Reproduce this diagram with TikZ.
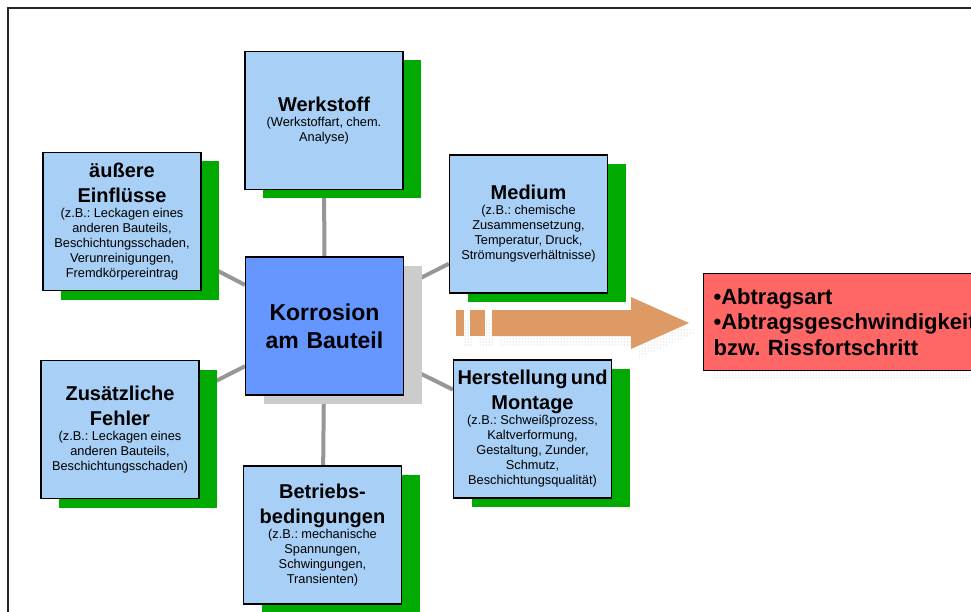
\documentclass[tikz,border=0pt]{standalone}
\usepackage{fontspec}
\setmainfont{Liberation Sans}
\usetikzlibrary{shadows, backgrounds, patterns}
\frenchspacing

\definecolor{factorblue}{RGB}{168,207,245}
\definecolor{shadowgreen}{RGB}{0,170,0}
\definecolor{korrblue}{RGB}{102,150,255}
\definecolor{korrshadow}{RGB}{204,204,204}
\definecolor{resultred}{RGB}{255,102,102}
\definecolor{arroworange}{RGB}{222,154,100}
\definecolor{linkgray}{RGB}{150,150,150}

\newcommand{\ftitle}{\fontsize{20}{25}\selectfont\bfseries}
\newcommand{\fsub}{\fontsize{12.8}{15}\selectfont}

\tikzset{
  factor/.style={draw=black, line width=1.2pt, fill=factorblue, minimum width=158pt, minimum height=138pt,
    text width=158pt, align=center, inner sep=0pt,
    drop shadow={shadow xshift=18pt, shadow yshift=-9pt, fill=shadowgreen, opacity=1}},
  core/.style={factor, fill=korrblue, font=\fontsize{23}{28}\selectfont\bfseries,
    drop shadow={shadow xshift=18pt, shadow yshift=-9pt, fill=korrshadow, opacity=1}},
  result/.style={draw=black, line width=1.2pt, fill=resultred, minimum height=97pt, text width=300pt,
    inner xsep=10pt, inner ysep=0pt, align=left, font=\fontsize{22}{25.5}\selectfont\bfseries,
    drop shadow={shadow xshift=10pt, shadow yshift=-9pt, pattern=dots, pattern color=gray!60, opacity=1}},
  link/.style={line width=4pt, linkgray},
  dotshade/.style={pattern=dots, pattern color=gray!60},
}

\begin{document}
\begin{tikzpicture}[x=1pt, y=-1pt]
  \useasboundingbox (0,0) rectangle (971,612);
  \draw[line width=2pt, black!85] (8,612) -- (8,8) -- (971,8); %Rahmen

  \node[core] (korr) at (324.5,326) {Korrosion\\am Bauteil};
  \node[factor] (werk) at (324,120.5) {{\ftitle Werkstoff\par}{\fsub (Werkstoffart, chem.\\Analyse)\par}};
  \node[factor] (aeuss) at (122,221.5) {{\ftitle äußere\\Einflüsse\par}{\fsub (z.B.: Leckagen eines\\anderen Bauteils,\\Beschichtungsschaden,\\Verunreinigungen,\\Fremdkörpereintrag\par}};
  \node[factor] (medium) at (528.5,224) {{\ftitle Medium\par}{\fsub (z.B.: chemische\\Zusammensetzung,\\Temperatur, Druck,\\Strömungsverhältnisse)\par}};
  \node[factor] (herst) at (532.5,429) {{\ftitle Herstellung und\\Montage\par}{\fsub (z.B.: Schweißprozess,\\Kaltverformung,\\Gestaltung, Zunder,\\Schmutz,\\Beschichtungsqualität)\par}};
  \node[factor] (zusatz) at (120,429.5) {{\ftitle Zusätzliche\\Fehler\par}{\fsub (z.B.: Leckagen eines\\anderen Bauteils,\\Beschichtungsschaden)\par}};
  \node[factor] (betrieb) at (322.5,535) {{\ftitle Betriebs-\\bedingungen\par}{\fsub (z.B.: mechanische\\Spannungen,\\Schwingungen,\\Transienten)\par}};

  \begin{scope}[on background layer]
    \foreach \f in {werk, aeuss, medium, herst, zusatz, betrieb}
      \draw[link] (korr) -- (\f); %Verbindungen
  \end{scope}

  \begin{scope}[shift={(8,9)}] %Pfeilschatten
    \fill[dotshade] (456,310) rectangle (464,336);
    \fill[dotshade] (470,310) rectangle (485,336);
    \fill[dotshade] (492,310) -- (631,310) -- (631,297) -- (689,323) -- (631,349) -- (631,336) -- (492,336) -- cycle;
  \end{scope}
  \fill[arroworange] (456,310) rectangle (464,336);
  \fill[arroworange] (470,310) rectangle (485,336);
  \fill[arroworange] (492,310) -- (631,310) -- (631,297) -- (689,323) -- (631,349) -- (631,336) -- (492,336) -- cycle; %Pfeil

  \node[result, anchor=north west] (ergebnis) at (703,273) {•Abtragsart\\•Abtragsgeschwindigkeit\\bzw. Rissfortschritt};
\end{tikzpicture}
\end{document}
